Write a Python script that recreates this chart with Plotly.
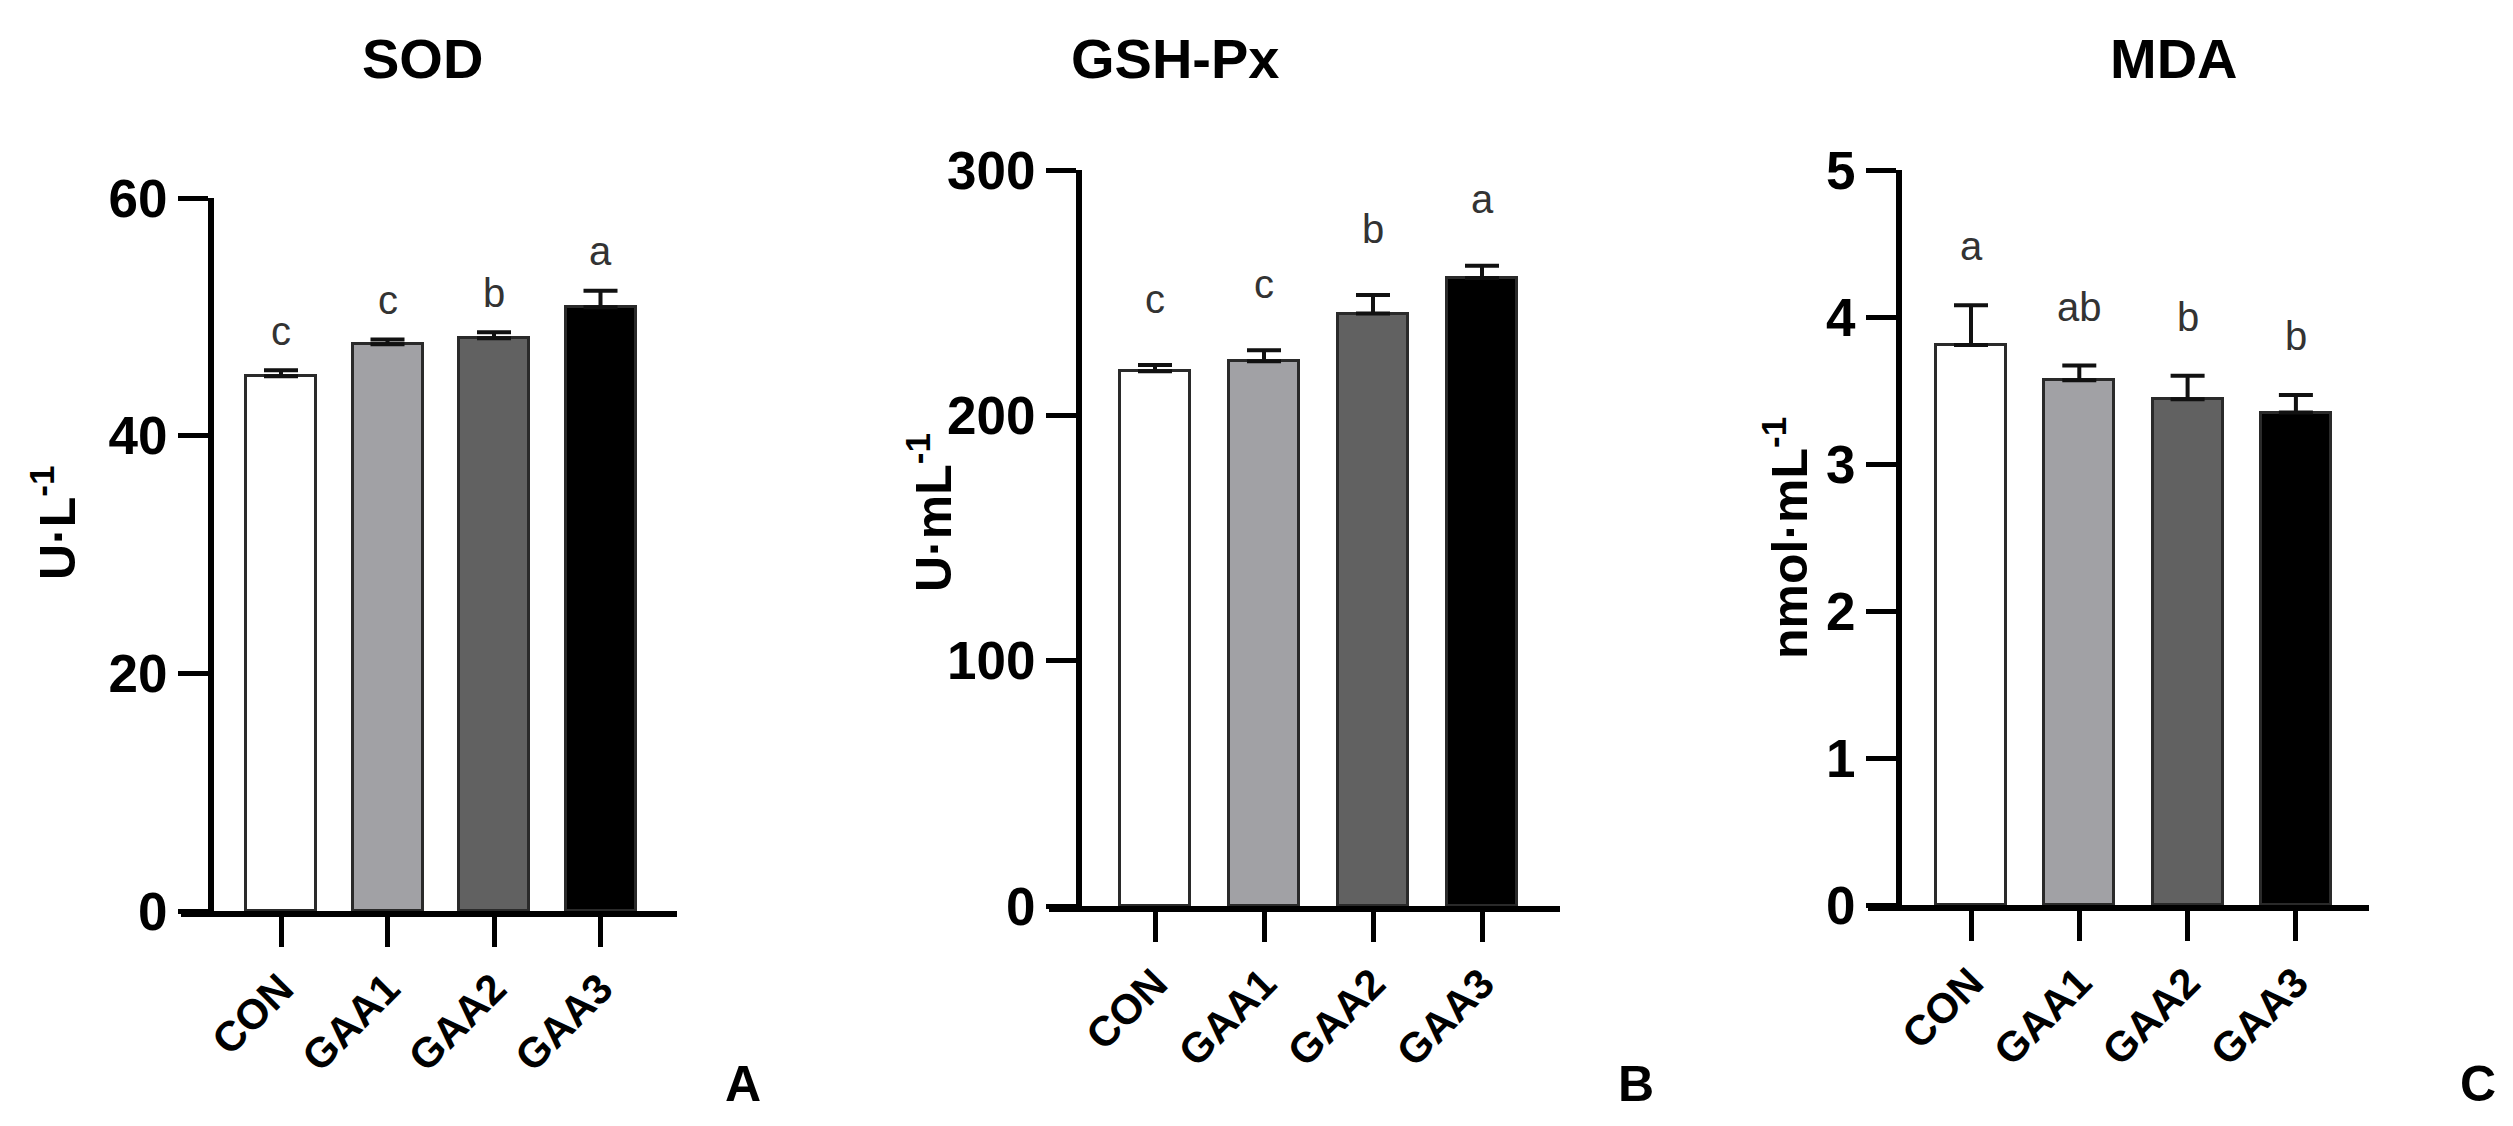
import plotly.graph_objects as go

W, H = 2513, 1126
FONT = "Liberation Sans, Arial, sans-serif"

groups = ["CON", "GAA1", "GAA2", "GAA3"]
bar_colors = ["#ffffff", "#a1a1a5", "#616161", "#000000"]

titles = ["SOD", "GSH-Px", "MDA"]
ytitles = ["U·L<sup>-1</sup>", "U·mL<sup>-1</sup>", "nmol·mL<sup>-1</sup>"]
panel_tags = ["A", "B", "C"]

sod_mean = [45.0, 47.7, 48.2, 50.8]
sod_err = [0.5, 0.4, 0.5, 1.4]
sod_sig = ["c", "c", "b", "a"]

gsh_mean = [218, 222, 241.5, 256]
gsh_err = [2.5, 4.5, 7.5, 5.0]
gsh_sig = ["c", "c", "b", "a"]

mda_mean = [3.81, 3.57, 3.44, 3.35]
mda_err = [0.27, 0.10, 0.16, 0.12]
mda_sig = ["a", "ab", "b", "b"]

yranges = [[0, 60], [0, 300], [0, 5]]
ydticks = [20, 100, 1]

means = [sod_mean, gsh_mean, mda_mean]
errs = [sod_err, gsh_err, mda_err]
sigs = [sod_sig, gsh_sig, mda_sig]

# layout geometry (pixels)
panels = [
    dict(x0=173, x1=669, ytop=190, ybot=903, ypos=203, tick0=273, step=106.5,
         title_x=415, ylab_x=46, ylab_y=515),
    dict(x0=1041, x1=1552, ytop=162, ybot=898, ypos=1071, tick0=1147, step=109,
         title_x=1167, ylab_x=922, ylab_y=505),
    dict(x0=1860, x1=2361, ytop=162, ybot=897, ypos=1891, tick0=1963, step=108.3,
         title_x=2166, ylab_x=1778, ylab_y=530),
]
sig_offset = [0.055, 0.09, 0.08]
tag_x = [735, 1628, 2470]

fig = go.Figure()
layout = dict(
    width=W, height=H, margin=dict(l=0, r=0, t=0, b=0, autoexpand=False),
    paper_bgcolor="white", plot_bgcolor="white", showlegend=False,
    bargap=0, annotations=[],
)

for i, p in enumerate(panels):
    sfx = "" if i == 0 else str(i + 1)
    xa, ya = "x" + sfx, "y" + sfx
    xs = list(range(len(groups)))
    fig.add_trace(go.Bar(
        x=xs, y=means[i], width=70 / p["step"], xaxis=xa, yaxis=ya,
        marker=dict(color=bar_colors, line=dict(color="#2a2a2a", width=3)),
        error_y=dict(type="data", array=errs[i], arrayminus=[0] * 4, symmetric=False,
                     color="#111111", thickness=4, width=17),
        hoverinfo="skip",
    ))
    r0 = (p["x0"] - p["tick0"]) / p["step"]
    r1 = (p["x1"] - p["tick0"]) / p["step"]
    layout["xaxis" + sfx] = dict(
        domain=[p["x0"] / W, p["x1"] / W], anchor=ya, range=[r0, r1], automargin=False,
        showline=True, linecolor="black", linewidth=6, showgrid=False, zeroline=False,
        ticks="outside", ticklen=30, tickwidth=5, tickcolor="black",
        tickvals=xs, ticktext=groups, tickangle=-45,
        tickfont=dict(family=FONT, size=42, color="black", weight="bold"),
    )
    layout["yaxis" + sfx] = dict(
        domain=[1 - p["ybot"] / H, 1 - p["ytop"] / H], anchor="free", automargin=False,
        position=p["ypos"] / W, range=yranges[i], dtick=ydticks[i],
        showline=True, linecolor="black", linewidth=6, showgrid=False, zeroline=False,
        ticks="outside", ticklen=30, tickwidth=5, tickcolor="black",
        tickfont=dict(family=FONT, size=53, color="black", weight="bold"),
    )
    span = yranges[i][1] - yranges[i][0]
    for j in xs:
        layout["annotations"].append(dict(
            x=j, y=means[i][j] + errs[i][j] + sig_offset[i] * span, xref=xa, yref=ya,
            text=sigs[i][j], showarrow=False, yanchor="middle",
            font=dict(family=FONT, size=40, color="#333333"),
        ))
    layout["annotations"].append(dict(
        x=p["title_x"] / W, y=1 - 50 / H, xref="paper", yref="paper",
        text=titles[i], showarrow=False, xanchor="center", yanchor="middle",
        font=dict(family=FONT, size=56, color="black", weight="bold"),
    ))
    layout["annotations"].append(dict(
        x=p["ylab_x"] / W, y=1 - p["ylab_y"] / H, xref="paper", yref="paper",
        text=ytitles[i], showarrow=False, textangle=-90, xanchor="center", yanchor="middle",
        font=dict(family=FONT, size=50, color="black", weight="bold"),
    ))
    layout["annotations"].append(dict(
        x=tag_x[i] / W, y=1 - 1076 / H, xref="paper", yref="paper",
        text=panel_tags[i], showarrow=False, xanchor="center", yanchor="middle",
        font=dict(family=FONT, size=50, color="black", weight="bold"),
    ))

fig.update_layout(**layout)
fig.write_html("out.html")
